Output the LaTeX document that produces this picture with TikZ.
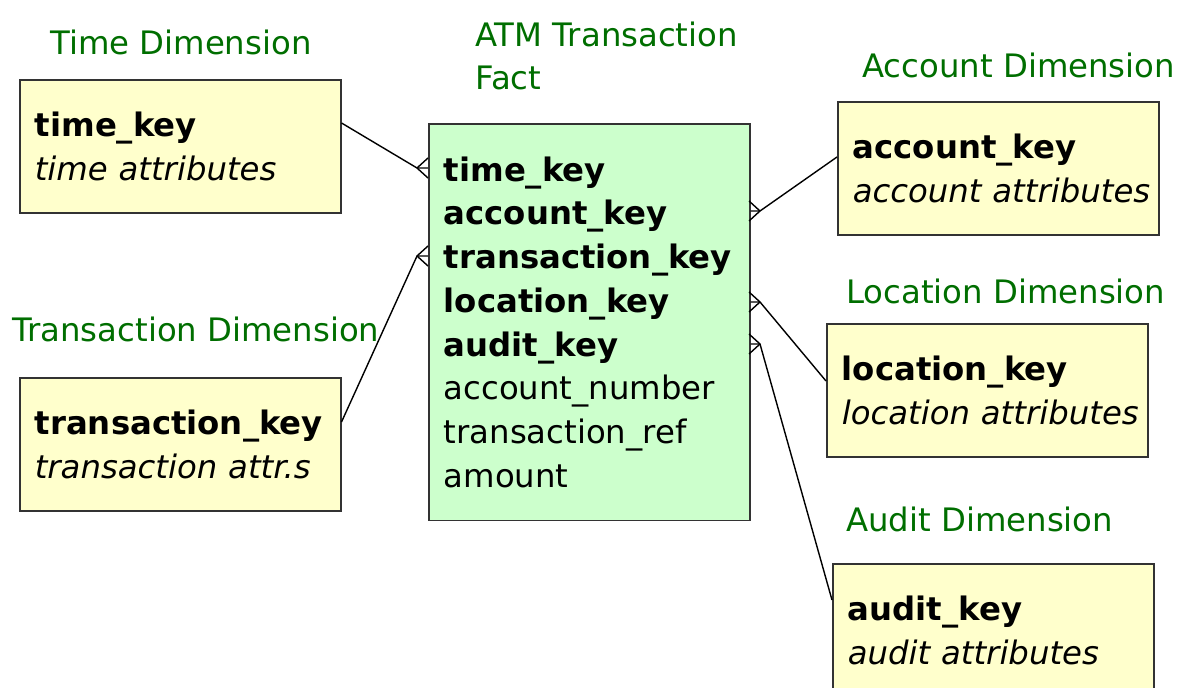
\documentclass[tikz,border=0pt]{standalone}
\usepackage{fontspec}
\setmainfont{DejaVu Sans}
\usetikzlibrary{calc}

\definecolor{dimyellow}{RGB}{255,255,204}
\definecolor{factgreen}{RGB}{204,255,204}
\definecolor{titlegreen}{RGB}{0,110,0}

% one unbroken line of a table: key in bold, attributes in italics
\newcommand{\keyline}[1]{\mbox{\textbf{#1}}}
\newcommand{\attrline}[1]{\mbox{\textit{#1}}}
% crow's foot at an apex, #2 = 1 opens to the right, -1 to the left
\newcommand{\crowsfoot}[2]{%
  \draw[link] (#1) -- ++(#2*11,-10) (#1) -- ++(#2*11,10);}

\begin{document}
\begin{tikzpicture}[x=0.02cm,y=-0.02cm,
  dimbox/.style={draw=black!80, line width=0.9pt, fill=dimyellow, anchor=north west,
    minimum width=6.42cm, minimum height=2.66cm, inner xsep=0.3cm, text width=5.82cm,
    align=left, font=\fontsize{18.4}{24.9}\selectfont},
  factbox/.style={dimbox, fill=factgreen, minimum height=7.94cm},
  dimtitle/.style={anchor=base west, text=titlegreen, inner sep=0pt,
    font=\fontsize{18.4}{24.9}\selectfont},
  link/.style={line width=0.8pt}]
\useasboundingbox (0,0) rectangle (1177,688);

% titles
\node[dimtitle] (timet) at (50,55) {Time Dimension};
\node[dimtitle, anchor=west, align=left] (factt) at (475,56) {ATM Transaction\\Fact};
\node[dimtitle] (transt) at (12,342) {Transaction Dimension};
\node[dimtitle] (acct) at (862,78) {Account Dimension};
\node[dimtitle] (loct) at (846,304) {Location Dimension};
\node[dimtitle] (auditt) at (846,532) {Audit Dimension};

% tables
\node[dimbox] (time) at (19,79) {\keyline{time\_key}\\\attrline{time attributes}};
\node[dimbox] (trans) at (19,377) {\keyline{transaction\_key}\\\attrline{transaction attr.s}};
\node[factbox] (fact) at (428,123) {\keyline{time\_key}\\\keyline{account\_key}\\
  \keyline{transaction\_key}\\\keyline{location\_key}\\\keyline{audit\_key}\\
  account\_number\\transaction\_ref\\amount};
\node[dimbox] (account) at (837,101) {\keyline{account\_key}\\\attrline{account attributes}};
\node[dimbox] (location) at (826,323) {\keyline{location\_key}\\\attrline{location attributes}};
\node[dimbox] (audit) at (832,563) {\keyline{audit\_key}\\\attrline{audit attributes}};

% links
\coordinate (timefoot) at (417,168);
\coordinate (transfoot) at (417,256);
\coordinate (accfoot) at (760,211);
\coordinate (locfoot) at (760,302);
\coordinate (auditfoot) at (760,344);

\draw[link] (time.east |- 0,123) -- (timefoot) -- (timefoot -| fact.west);
\draw[link] (trans.east |- 0,422) -- (transfoot) -- (transfoot -| fact.west);
\draw[link] (account.west |- 0,157) -- (accfoot) -- (accfoot -| fact.east);
\draw[link] (location.west |- 0,381) -- (locfoot) -- (locfoot -| fact.east);
\draw[link] (audit.west |- 0,600) -- (auditfoot) -- (auditfoot -| fact.east);
\crowsfoot{timefoot}{1}
\crowsfoot{transfoot}{1}
\crowsfoot{accfoot}{-1}
\crowsfoot{locfoot}{-1}
\crowsfoot{auditfoot}{-1}
\end{tikzpicture}
\end{document}
